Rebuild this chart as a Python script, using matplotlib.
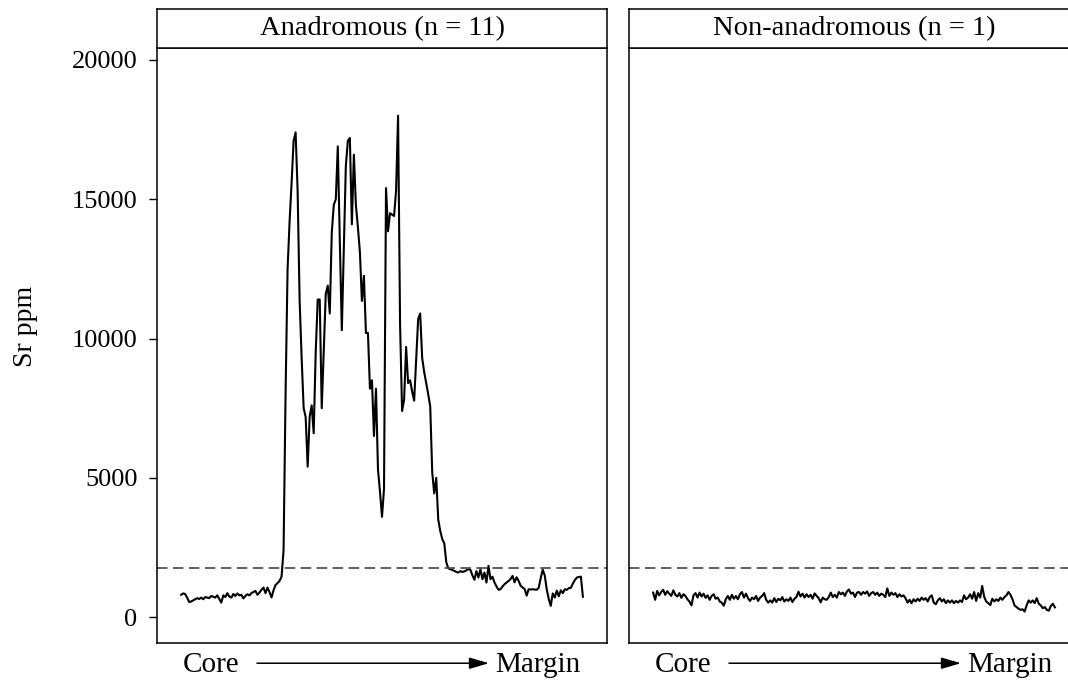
import numpy as np
import matplotlib
matplotlib.use("Agg")
import matplotlib.pyplot as plt

plt.rcParams["font.family"] = ["Liberation Serif", "DejaVu Serif"]

# Sr concentration along otolith transects (core -> margin)
panel_titles = ["Anadromous (n = 11)", "Non-anadromous (n = 1)"]
sr_threshold = 1750
y_ticks = [0, 5000, 10000, 15000, 20000]

sr_anadromous = [
    800, 850, 830, 700, 540, 560, 600, 640, 680, 650, 700, 640, 720, 700, 680,
    760, 730, 700, 780, 650, 520, 780, 720, 860, 740, 700, 830, 760, 850, 780,
    800, 670, 760, 820, 780, 860, 900, 940, 800, 880, 980, 1060, 860, 1060, 900,
    705, 960, 1150, 1220, 1300, 1450,
    2400, 8000, 12500, 14200, 15600, 17100, 17400, 15300, 11350, 9300, 7500,
    7180, 5400, 7200, 7600, 6600, 9500, 11400, 11400, 7500, 9500, 11600, 11900,
    10900, 13800, 14800, 15000, 16900, 13500, 10300, 13300, 16200, 17100, 17200,
    14100, 16600, 14800, 14000, 13100, 11350, 12250, 10200, 10200, 8200, 8500,
    6500, 8200, 5300, 4500, 3600, 4600, 15400, 13850, 14500, 14450, 14400,
    15300, 18000, 10500, 7400, 7800, 9700, 8400, 8500, 8100, 7770, 9200, 10700,
    10900, 9300, 8800, 8400, 8000, 7570, 5200, 4440, 5000, 3500, 3090, 2800,
    2650, 1970, 1750, 1720, 1690, 1660, 1620, 1600, 1650, 1620, 1640, 1680,
    1720, 1700, 1500, 1340, 1650, 1420, 1720, 1360, 1600, 1240, 1840, 1360,
    1450, 1240, 1100, 980, 1000, 1100, 1180, 1240, 1300, 1360, 1480, 1250,
    1430, 1300, 1130, 1060, 1010, 770, 1000, 990, 1000, 990, 980, 1050, 1400,
    1700, 1500, 1000, 650, 400, 850, 700, 950, 750, 960, 860, 1000, 980, 1040,
    1050, 1200, 1330, 1420, 1440, 1450, 730,
]

sr_non_anadromous = [
    880, 620, 940, 780, 900, 980, 800, 930, 840, 760, 960, 800, 740, 860, 690,
    820, 760, 640, 560, 420,
    780, 860, 700, 880, 740, 840, 690, 780, 620, 760, 820, 660, 700, 560, 520, 410,
    640, 760, 620, 800, 660, 760, 640, 820, 900, 700, 840, 680, 580, 700, 640,
    760, 580, 700, 760, 860, 620, 520,
    600, 520, 680, 540, 660, 600, 720, 560, 640, 580, 700, 540, 660, 720, 910,
    740, 840, 700, 820, 720, 800, 660, 850, 760, 680, 530, 700, 640, 620, 720,
    880, 720, 800, 700, 900, 820, 880, 760, 920, 990, 840, 880, 720, 880, 900,
    800, 900, 840, 920, 760, 860, 900, 800, 880, 760, 840, 800, 720, 1030, 760,
    880, 800, 860, 720, 820, 740, 780, 680,
    520, 620, 500, 640, 560, 660, 580, 700, 620, 680, 560, 720, 780, 520, 460,
    600, 680, 560, 640, 500, 600, 520, 600, 500, 580, 520, 600, 540,
    780, 640, 700, 820, 660, 900, 580, 860, 700, 1120, 720, 560, 500, 430, 660,
    560, 640, 580, 700, 620, 720, 780, 900, 800,
    640, 420, 360, 300, 260, 280, 200,
    420, 600, 520, 600, 500, 680,
    480, 420, 320, 360, 260, 230, 400, 480, 350,
]

W, H = 1068, 685
fig = plt.figure(figsize=(W / 100, H / 100), dpi=100)


def fx(px):
    return px / W


def fy(py):
    return 1 - py / H


panel_bottom, panel_top, strip_top = 643, 48, 9
panel_lefts = [157, 629]
panel_width = 450

for k, (title, series) in enumerate(zip(panel_titles, [sr_anadromous, sr_non_anadromous])):
    left = panel_lefts[k]
    ax = fig.add_axes([fx(left), fy(panel_bottom), fx(panel_width),
                       fy(panel_top) - fy(panel_bottom)])
    x = np.arange(len(series))
    span = len(series) - 1
    ax.plot(x, series, color="black", lw=1.5)
    ax.axhline(sr_threshold, color="#4a4a4a", lw=1.25, dashes=(6, 3.2))
    ax.set_xlim(-0.06 * span, 1.06 * span)
    ax.set_ylim(-930, 20430)
    ax.set_xticks([])
    ax.set_yticks(y_ticks)
    if k == 0:
        ax.tick_params(axis="y", length=5.5, width=1, pad=8.5, labelsize=19)
    else:
        ax.tick_params(axis="y", left=False, labelleft=False)
    for sp in ax.spines.values():
        sp.set_linewidth(1.1)
        sp.set_color("black")

    # strip on top of each panel
    sax = fig.add_axes([fx(left), fy(panel_top), fx(panel_width),
                        fy(strip_top) - fy(panel_top)])
    sax.set_xticks([])
    sax.set_yticks([])
    for sp in sax.spines.values():
        sp.set_linewidth(1.1)
    sax.text(0.5, 0.5, title, ha="center", va="center", fontsize=20.5,
             transform=sax.transAxes)

    # core -> margin direction under each panel
    ty = (panel_bottom - 665) / (panel_bottom - panel_top)
    ax.text(26 / panel_width, ty, "Core", ha="left", va="center", fontsize=21,
            transform=ax.transAxes)
    ax.text(338 / panel_width, ty, "Margin", ha="left", va="center", fontsize=21,
            transform=ax.transAxes)
    ax.annotate("", xy=(332 / panel_width, ty + 0.003), xytext=(100 / panel_width, ty + 0.003),
                xycoords="axes fraction", textcoords="axes fraction",
                annotation_clip=False,
                arrowprops=dict(arrowstyle="-|>,head_length=1.2,head_width=0.35",
                                color="black", lw=1.1, shrinkA=0, shrinkB=0))

fig.text(fx(25), fy(326), "Sr ppm", rotation=90, ha="center", va="center", fontsize=20)

fig.savefig("out.png", dpi=100)
